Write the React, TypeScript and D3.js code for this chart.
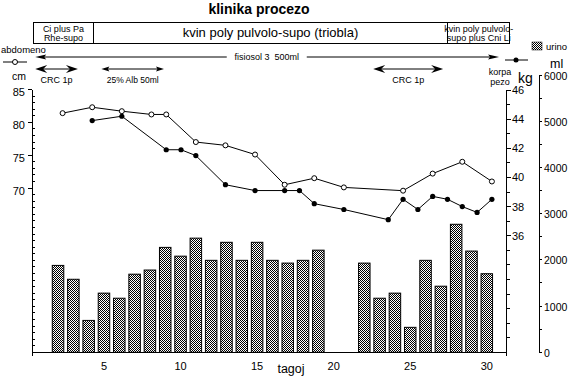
import React from "react";
import * as d3 from "d3";

// ---------- data ----------
const urinoDays = [2, 3, 4, 5, 6, 7, 8, 9, 10, 11, 12, 13, 14, 15, 16, 17, 18, 19, 22, 23, 24, 25, 26, 27, 28, 29, 30];
const urinoMl = [1880, 1580, 690, 1280, 1170, 1690, 1780, 2270, 2080, 2470, 1990, 2380, 1990, 2380, 1990, 1930, 1990, 2210, 1930, 1170, 1280, 540, 1990, 1430, 2770, 2190, 1700];

const abdomenoDays = [1, 3, 5, 7, 8, 10, 12, 14, 16, 18, 20, 24, 26, 28, 30];
const abdomenoCm = [81.4, 82.3, 81.7, 81.2, 81.2, 77.0, 76.5, 75.1, 70.5, 71.5, 70.1, 69.6, 72.2, 74.0, 71.0];

const pezoDays = [3, 5, 8, 9, 10, 12, 14, 16, 17, 18, 20, 23, 24, 25, 26, 27, 28, 29, 30];
const pezoKg = [43.9, 44.2, 41.9, 41.9, 41.5, 39.5, 39.1, 39.1, 39.1, 38.2, 37.8, 37.1, 38.5, 37.8, 38.7, 38.5, 38.0, 37.6, 38.5];

const dayTicks = [5, 10, 15, 20, 25, 30];
const cmTicks = [70, 75, 80, 85];
const kgTicks = [36, 38, 40, 42, 44, 46];
const mlTicks = [0, 1000, 2000, 3000, 4000, 5000, 6000];

const therapyFrom = [0.4, 4.3, 27.45];
const therapyTo = [4.3, 27.45, 31.5];
const therapyLines = [["Ci plus Pa", "Rhe-supo"], ["kvin poly pulvolo-supo (triobla)"], ["kvin poly pulvolo-", "supo plus Cni Li"]];

const infusionLabel = "fisiosol 3  500ml";
const infusionFrom = 0.51;
const infusionTo = 30.8;

const courseLabels = ["CRC 1p", "25% Alb 50ml", "CRC 1p"];
const courseFrom = [0.51, 4.83, 22.58];
const courseTo = [3.3, 8.92, 27.15];
const courseBarbed = [true, false, true];

// ---------- layout ----------
const W = 574;
const H = 382;
const FONT = "'Liberation Sans', Arial, Helvetica, sans-serif";

const xBar = d3.scaleLinear().domain([0.3, 31.3]).range([32, 506.7]);
const xLine = d3.scaleLinear().domain([-1, 31]).range([33, 506.7]);
const yCm = d3.scaleLinear().domain([45, 85]).range([352.3, 89.5]);
const yKg = d3.scaleLinear().domain([28, 46]).range([352.3, 90]);
const yMl = d3.scaleLinear().domain([0, 6000]).range([352.3, 75]);

function arrowHead(tx: number, y: number, dir: number, len: number, half: number, notch: number) {
  const b = tx - dir * len;
  const n = tx - dir * notch;
  return `M${tx},${y}L${b},${y - half}L${n},${y}L${b},${y + half}Z`;
}

export default function App() {
  const abdPts = abdomenoDays.map((d, i) => [d, abdomenoCm[i]] as [number, number]);
  const pezoPts = pezoDays.map((d, i) => [d, pezoKg[i]] as [number, number]);
  const abdLine = d3.line<[number, number]>().x((d) => xLine(d[0])).y((d) => yCm(d[1]))(abdPts) || "";
  const pezoLine = d3.line<[number, number]>().x((d) => xLine(d[0])).y((d) => yKg(d[1]))(pezoPts) || "";

  const xL = xBar.range()[0];
  const xR = xBar.range()[1];
  const yBase = yCm.range()[0];
  const xMl = 539;
  const barW = 11.5;

  const boxTop = 22.5;
  const boxBot = 43;

  const infY = 57;
  const infX0 = xBar(infusionFrom);
  const infX1 = xBar(infusionTo);
  const infMid = xBar(15.5);

  const courseY = 69;

  return (
    <svg width={W} height={H} style={{ position: "absolute", left: 0, top: 0, background: "#fff" }} fontFamily={FONT}>
      <defs>
        <pattern id="dither" width={2} height={2} patternUnits="userSpaceOnUse">
          <rect width={2} height={2} fill="#fff" />
          <rect x={0} y={0} width={1} height={1} fill="#000" />
          <rect x={1} y={1} width={1} height={1} fill="#000" />
        </pattern>
      </defs>

      {/* title */}
      <text x={259} y={14} fontSize={14} fontWeight="bold" textAnchor="middle">klinika procezo</text>

      {/* therapy boxes */}
      {therapyFrom.map((f, i) => {
        const x0 = xBar(f);
        const x1 = xBar(therapyTo[i]);
        const cx = (x0 + x1) / 2;
        const lines = therapyLines[i];
        return (
          <g key={"box" + i}>
            <rect x={x0} y={boxTop} width={x1 - x0} height={boxBot - boxTop} fill="none" stroke="#000" strokeWidth={1} shapeRendering="crispEdges" />
            {lines.length === 1 ? (
              <text x={cx} y={36.5} fontSize={13} textAnchor="middle">{lines[0]}</text>
            ) : (
              lines.map((t, j) => (
                <text key={j} x={cx} y={31.5 + j * 9.5} fontSize={9} textAnchor="middle">{t}</text>
              ))
            )}
          </g>
        );
      })}

      {/* infusion line */}
      <text x={1} y={53} fontSize={9.5}>abdomeno</text>
      <line x1={infX0 + 6} x2={infMid - 38} y1={infY} y2={infY} stroke="#000" />
      <line x1={infMid + 42} x2={infX1 - 6} y1={infY} y2={infY} stroke="#000" />
      <path d={arrowHead(infX0, infY, -1, 11, 2.5, 9)} fill="#000" />
      <path d={arrowHead(infX1, infY, 1, 11, 2.5, 9)} fill="#000" />
      <text x={infMid + 2} y={60} fontSize={9} textAnchor="middle" style={{ whiteSpace: "pre" }}>{infusionLabel}</text>

      {/* legend symbols */}
      <line x1={3} x2={27} y1={62} y2={62} stroke="#000" />
      <circle cx={15} cy={62} r={2.5} fill="#fff" stroke="#000" />
      <line x1={505} x2={528} y1={60} y2={60} stroke="#000" />
      <circle cx={516} cy={60} r={2.5} fill="#000" />
      <rect x={532} y={42} width={10} height={8} fill="url(#dither)" stroke="#000" strokeWidth={0.5} />
      <text x={546} y={50} fontSize={9.5}>urino</text>

      {/* course arrows */}
      {courseLabels.map((lab, i) => {
        const x0 = xBar(courseFrom[i]);
        const x1 = xBar(courseTo[i]);
        const barbed = courseBarbed[i];
        const len = barbed ? 12 : 8;
        const half = barbed ? 4 : 2.5;
        const notch = barbed ? 8 : 6.5;
        return (
          <g key={"c" + i}>
            <line x1={x0 + 4} x2={x1 - 4} y1={courseY} y2={courseY} stroke="#000" />
            <path d={arrowHead(x0, courseY, -1, len, half, notch)} fill="#000" />
            <path d={arrowHead(x1, courseY, 1, len, half, notch)} fill="#000" />
            <text x={(x0 + x1) / 2} y={83} fontSize={barbed ? 9 : 8.5} textAnchor="middle">{lab}</text>
          </g>
        );
      })}

      {/* axis titles */}
      <text x={12} y={80} fontSize={10.5}>cm</text>
      <text x={500} y={75} fontSize={9} textAnchor="middle">korpa</text>
      <text x={500} y={85} fontSize={9} textAnchor="middle">pezo</text>
      <text x={518} y={83} fontSize={14}>kg</text>
      <text x={550} y={68} fontSize={12.5}>ml</text>
      <text x={291} y={373} fontSize={12.5} textAnchor="middle">tagoj</text>

      {/* bars */}
      {urinoDays.map((d, i) => (
        <rect key={"b" + i} x={xBar(d) - barW / 2} y={yMl(urinoMl[i])} width={barW} height={yMl(0) - yMl(urinoMl[i])}
          fill="url(#dither)" stroke="#000" strokeWidth={1} />
      ))}

      {/* x axis */}
      <line x1={xL} x2={xR} y1={yBase} y2={yBase} stroke="#000" shapeRendering="crispEdges" />
      {dayTicks.map((t) => (
        <text key={"xt" + t} x={xBar(t)} y={370} fontSize={11} textAnchor="middle">{t}</text>
      ))}

      {/* left cm axis */}
      <line x1={xL} x2={xL} y1={yCm(85)} y2={yBase + 4} stroke="#000" shapeRendering="crispEdges" />
      {d3.range(46, 85, 1).filter((v) => !cmTicks.includes(v)).map((v) => (
        <line key={"cm" + v} x1={xL} x2={xL + 3} y1={yCm(v)} y2={yCm(v)} stroke="#000" shapeRendering="crispEdges" />
      ))}
      {cmTicks.map((v) => (
        <g key={"cmt" + v}>
          <line x1={xL - 4} x2={xL} y1={yCm(v)} y2={yCm(v)} stroke="#000" shapeRendering="crispEdges" />
          <text x={25} y={yCm(v) + 6.5} fontSize={11} textAnchor="end">{v}</text>
        </g>
      ))}

      {/* kg axis */}
      <line x1={xR} x2={xR} y1={yKg(46)} y2={yBase + 4} stroke="#000" shapeRendering="crispEdges" />
      {d3.range(29, 47, 1).map((v) => (
        <line key={"kg" + v} x1={xR} x2={xR + (kgTicks.includes(v) ? 4 : 3)} y1={yKg(v)} y2={yKg(v)} stroke="#000" shapeRendering="crispEdges" />
      ))}
      {kgTicks.map((v) => (
        <text key={"kgt" + v} x={512} y={yKg(v) + 4} fontSize={11}>{v}</text>
      ))}

      {/* ml axis */}
      <line x1={xMl} x2={xMl} y1={yMl(6000)} y2={yMl(0)} stroke="#000" shapeRendering="crispEdges" />
      {d3.range(0, 6001, 500).map((v) => (
        <line key={"ml" + v} x1={xMl} x2={xMl + 3} y1={yMl(v)} y2={yMl(v)} stroke="#000" shapeRendering="crispEdges" />
      ))}
      {mlTicks.map((v) => (
        <text key={"mlt" + v} x={544} y={yMl(v) + 4.5} fontSize={10.5}>{v}</text>
      ))}

      {/* lines */}
      <path d={abdLine} fill="none" stroke="#000" strokeWidth={1} />
      <path d={pezoLine} fill="none" stroke="#000" strokeWidth={1} />
      {abdPts.map((p, i) => (
        <circle key={"a" + i} cx={xLine(p[0])} cy={yCm(p[1])} r={2.5} fill="#fff" stroke="#000" />
      ))}
      {pezoPts.map((p, i) => (
        <circle key={"p" + i} cx={xLine(p[0])} cy={yKg(p[1])} r={2.6} fill="#000" />
      ))}
    </svg>
  );
}
